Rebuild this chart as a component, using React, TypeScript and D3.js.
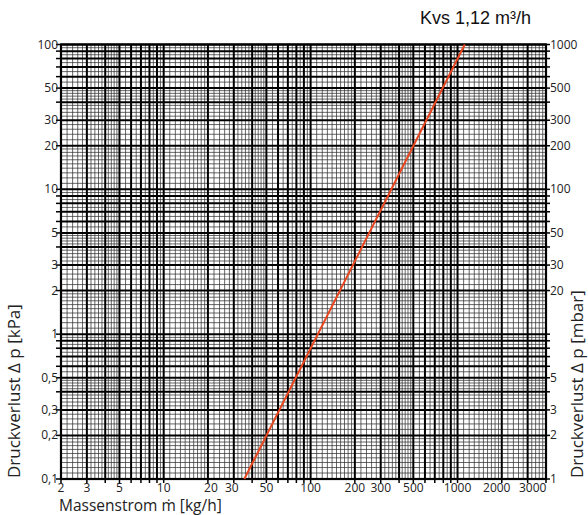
import React from "react";
import * as d3 from "d3";

// Kvs 1,12 m³/h line
const flow = [35.4, 1120];
const dpKpa = [0.1, 100];

const xTickLabels = [2, 3, 5, 10, 20, 30, 50, 100, 200, 300, 500, 1000, 2000, 3000];
const yTickLabels = [0.1, 0.2, 0.3, 0.5, 1, 2, 3, 5, 10, 20, 30, 50, 100];
const yRightLabels = [1, 2, 3, 5, 20, 30, 50, 100, 200, 300, 500, 1000];

const W = 588;
const H = 515;
const m = { left: 61, right: 546, top: 44.5, bottom: 479 };

const fmt = (v: number) => String(v).replace(".", ",");
// labels that sit close together get pushed apart a little
const nudge: Record<number, number> = { 20: 3, 30: -2, 2000: -5, 3000: 5 };

// integer multiples in every decade inside the domain
const majors = (lo: number, hi: number) => {
  const out: number[] = [];
  for (let k = Math.floor(Math.log10(lo)); k <= Math.ceil(Math.log10(hi)); k++) {
    for (let d = 1; d <= 9; d++) {
      const v = +(d * Math.pow(10, k)).toPrecision(6);
      if (v >= lo * 0.9999 && v <= hi * 1.0001) out.push(v);
    }
  }
  return out;
};

// finer subdivisions like on log paper
const minors = (lo: number, hi: number) => {
  const out: number[] = [];
  for (let k = Math.floor(Math.log10(lo)); k <= Math.ceil(Math.log10(hi)); k++) {
    const p = Math.pow(10, k);
    const add = (a: number, b: number, s: number) => {
      for (let d = a + s; d < b - 1e-9; d += s) {
        const v = +(d * p).toPrecision(6);
        if (v > lo && v < hi) out.push(v);
      }
    };
    add(1, 2, 0.1);
    add(2, 3, 0.2);
    add(3, 4, 0.2);
    add(4, 5, 0.2);
    add(5, 6, 0.5);
    add(6, 7, 0.5);
    add(7, 8, 0.5);
    add(8, 9, 0.5);
    add(9, 10, 0.5);
  }
  return out;
};

const App = () => {
  const x = d3.scaleLog().domain([2, 4000]).range([m.left, m.right]);
  const y = d3.scaleLog().domain([0.1, 100]).range([m.bottom, m.top]);
  const yR = d3.scaleLog().domain([1, 1000]).range([m.bottom, m.top]);

  const xMaj = majors(2, 4000);
  const yMaj = majors(0.1, 100);
  const xMin = minors(2, 4000);
  const yMin = minors(0.1, 100);

  const line = d3
    .line<number>()
    .x((d) => x(d))
    .y((d, i) => y(dpKpa[i]));

  const tickFont = "'Open Sans', 'DejaVu Sans', sans-serif";

  return (
    <svg width={W} height={H} style={{ position: "absolute", left: 0, top: 0 }}>
      <rect width={W} height={H} fill="#fff" />
      <text
        x={531}
        y={24}
        textAnchor="end"
        fontFamily="'Liberation Sans', Arial, sans-serif"
        fontSize={18}
        fill="#111"
      >
        Kvs 1,12 m³/h
      </text>

      {/* minor grid */}
      <g stroke="#333" strokeWidth={1} strokeOpacity={0.75}>
        {xMin.map((v) => (
          <line key={"xm" + v} x1={x(v)} x2={x(v)} y1={m.top} y2={m.bottom} />
        ))}
        {yMin.map((v) => (
          <line key={"ym" + v} y1={y(v)} y2={y(v)} x1={m.left} x2={m.right} />
        ))}
      </g>
      {/* major grid */}
      <g stroke="#000" strokeWidth={2}>
        {xMaj.map((v) => (
          <line key={"xM" + v} x1={x(v)} x2={x(v)} y1={m.top} y2={m.bottom} />
        ))}
        {yMaj.map((v) => (
          <line key={"yM" + v} y1={y(v)} y2={y(v)} x1={m.left} x2={m.right} />
        ))}
      </g>
      <rect
        x={m.left}
        y={m.top}
        width={m.right - m.left}
        height={m.bottom - m.top}
        fill="none"
        stroke="#000"
        strokeWidth={2.2}
      />

      {/* outward ticks */}
      <g stroke="#000" strokeWidth={1.5}>
        {yMaj.map((v) => (
          <line key={"lt" + v} x1={m.left - 5} x2={m.left} y1={y(v)} y2={y(v)} />
        ))}
        {yMaj.map((v) => (
          <line key={"rt" + v} x1={m.right} x2={m.right + 4} y1={y(v)} y2={y(v)} />
        ))}
        {xMaj.map((v) => (
          <line key={"bt" + v} x1={x(v)} x2={x(v)} y1={m.bottom} y2={m.bottom + 4} />
        ))}
      </g>

      <path d={line(flow) || ""} fill="none" stroke="#e8461e" strokeWidth={2} />

      <g fontFamily={tickFont} fontSize={12} fill="#222">
        {yTickLabels.map((v) => (
          <text key={"yl" + v} x={m.left - 3} y={y(v) + 4} textAnchor="end">
            {fmt(v)}
          </text>
        ))}
        {yRightLabels.map((v) => (
          <text key={"yr" + v} x={m.right + 4} y={yR(v) + 4}>
            {fmt(v)}
          </text>
        ))}
        {xTickLabels.map((v) => (
          <text
            key={"xl" + v}
            x={x(v) + (nudge[v] || 0)}
            y={m.bottom + 13}
            textAnchor="middle"
          >
            {fmt(v)}
          </text>
        ))}
      </g>

      <g fontFamily={tickFont} fontSize={15.5} fill="#222">
        <text x={59} y={511}>
          Massenstrom ṁ [kg/h]
        </text>
      </g>
      <g fontFamily={tickFont} fontSize={17} fill="#222">
        <text transform={`translate(20,478) rotate(-90)`}>Druckverlust Δ p [kPa]</text>
        <text transform={`translate(583,478) rotate(-90)`}>Druckverlust Δ p [mbar]</text>
      </g>
    </svg>
  );
};

export default App;
